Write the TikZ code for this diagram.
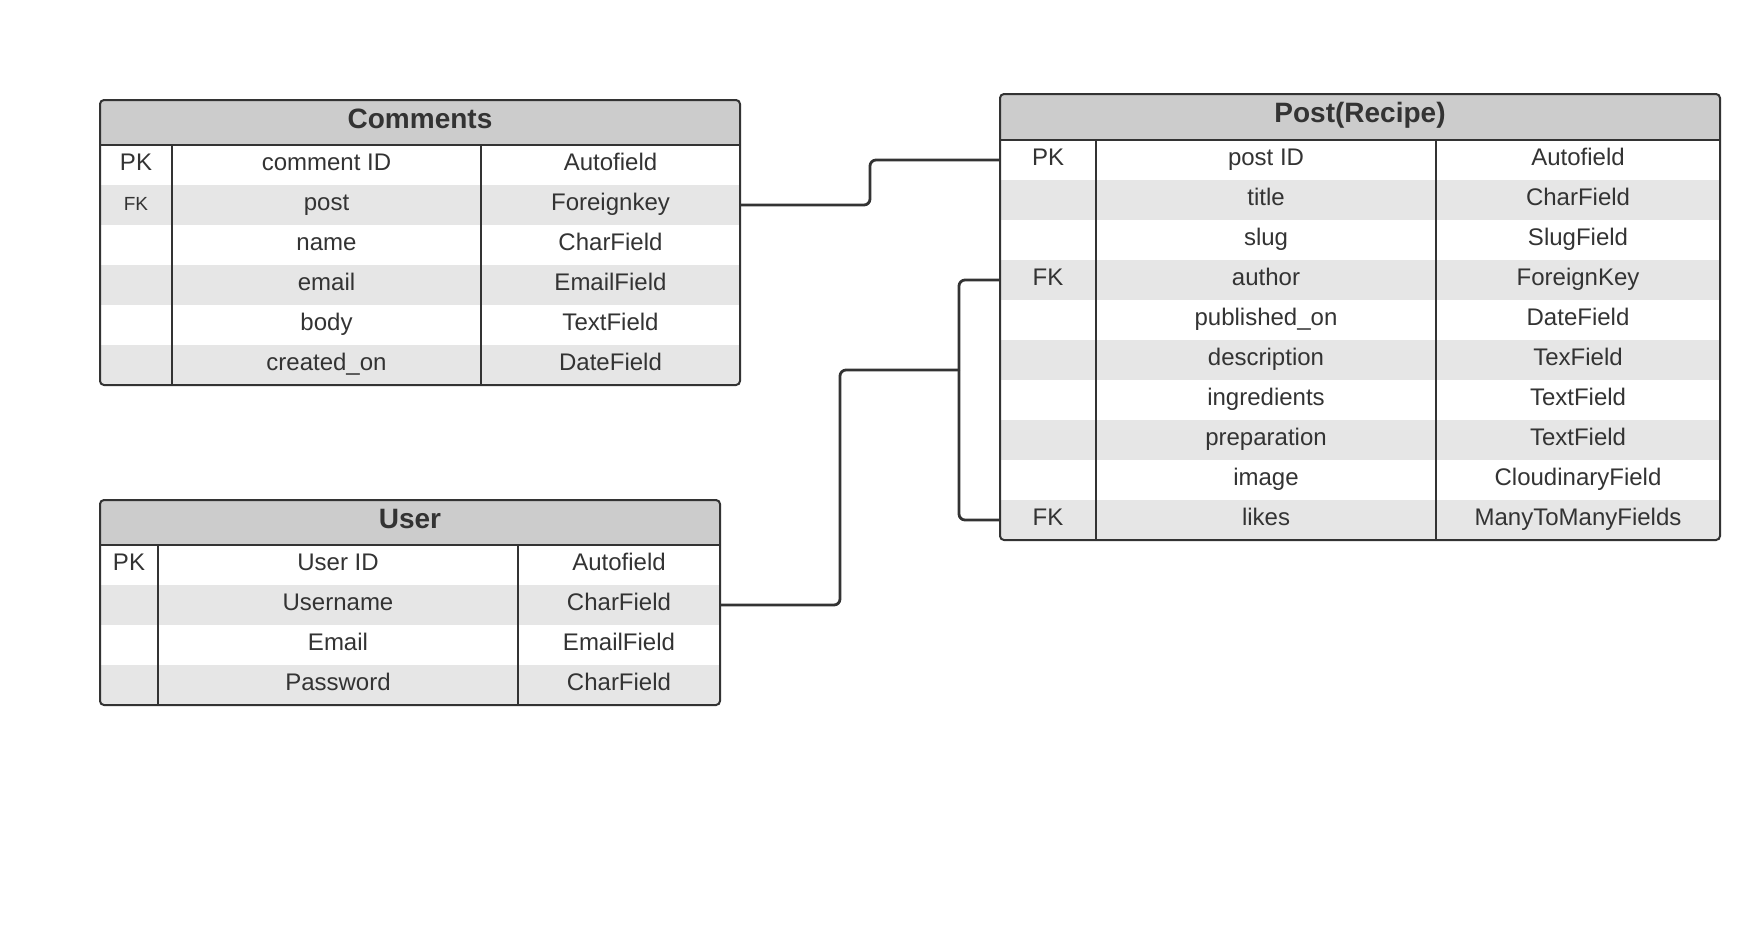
\documentclass[tikz,border=0pt]{standalone}
\usepackage{fontspec}
\setmainfont{Liberation Sans}
\definecolor{ink}{HTML}{333333}
\definecolor{headfill}{HTML}{CCCCCC}
\definecolor{stripefill}{HTML}{E6E6E6}
\newcommand{\fksmall}{\fontsize{9.5}{11}\selectfont}
\tikzset{
  every node/.style={text=ink, inner sep=0pt, outer sep=0pt},
  cell/.style={anchor=base, font=\fontsize{12}{14}\selectfont},
  tabtitle/.style={anchor=base, font=\fontsize{14}{16}\selectfont\bfseries},
  head/.style={anchor=north west, fill=headfill},
  band/.style={anchor=west, minimum height=20pt},
  band0/.style={band, fill=stripefill},
  band1/.style={band, fill=white},
  frame/.style={draw=ink, line width=1pt, rounded corners=2pt},
  rule/.style={draw=ink, line width=1pt},
  link/.style={draw=ink, line width=1.4pt, rounded corners=3pt},
}

\begin{document}
\begin{tikzpicture}[x=0.5pt, y=-0.5pt]
  \useasboundingbox (0,0) rectangle (1760,949);
  % Comments
  \begin{scope}
    \clip[rounded corners=2pt] (100,100) rectangle (740,385);
    \node[head, minimum width=320pt, minimum height=22.5pt] (com-head) at (100,100) {};
    \foreach \k/\f/\t [count=\i] in {PK/comment ID/Autofield, {\fksmall FK}/post/Foreignkey,
        /name/CharField, /email/EmailField, /body/TextField, /created\_on/DateField}{
      \pgfmathtruncatemacro\c{mod(\i,2)}
      \node[band\c, minimum width=320pt] (com-\i) at (100,{145+40*\i-20}) {};
      \node[cell] (com-\i-key) at (136,{145+40*\i-15}) {\k};
      \node[cell] (com-\i-name) at (326.5,{145+40*\i-15}) {\f};
      \node[cell] (com-\i-type) at (610.5,{145+40*\i-15}) {\t};
    }
  \end{scope}
  \node[tabtitle] (com-title) at (420,128) {Comments};
  \draw[frame] (100,100) rectangle (740,385);
  \draw[rule] (com-head.south west) -- (com-head.south east);
  \draw[rule] (172,145) -- (172,385);
  \draw[rule] (481,145) -- (481,385);

  % Post(Recipe)
  \begin{scope}
    \clip[rounded corners=2pt] (1000,94) rectangle (1720,540);
    \node[head, minimum width=360pt, minimum height=23pt] (post-head) at (1000,94) {};
    \foreach \k/\f/\t [count=\i] in {PK/post ID/Autofield, /title/CharField, /slug/SlugField,
        FK/author/ForeignKey, /published\_on/DateField, /description/TexField,
        /ingredients/TextField, /preparation/TextField, /image/CloudinaryField,
        FK/likes/ManyToManyFields}{
      \pgfmathtruncatemacro\c{mod(\i,2)}
      \node[band\c, minimum width=360pt] (post-\i) at (1000,{140+40*\i-20}) {};
      \node[cell] (post-\i-key) at (1048,{140+40*\i-15}) {\k};
      \node[cell] (post-\i-name) at (1266,{140+40*\i-15}) {\f};
      \node[cell] (post-\i-type) at (1578,{140+40*\i-15}) {\t};
    }
  \end{scope}
  \node[tabtitle] (post-title) at (1360,122) {Post(Recipe)};
  \draw[frame] (1000,94) rectangle (1720,540);
  \draw[rule] (post-head.south west) -- (post-head.south east);
  \draw[rule] (1096,140) -- (1096,540);
  \draw[rule] (1436,140) -- (1436,540);

  % User
  \begin{scope}
    \clip[rounded corners=2pt] (100,500) rectangle (720,705);
    \node[head, minimum width=310pt, minimum height=22.5pt] (user-head) at (100,500) {};
    \foreach \k/\f/\t [count=\i] in {PK/User ID/Autofield, /Username/CharField,
        /Email/EmailField, /Password/CharField}{
      \pgfmathtruncatemacro\c{mod(\i,2)}
      \node[band\c, minimum width=310pt] (user-\i) at (100,{545+40*\i-20}) {};
      \node[cell] (user-\i-key) at (129,{545+40*\i-15}) {\k};
      \node[cell] (user-\i-name) at (338,{545+40*\i-15}) {\f};
      \node[cell] (user-\i-type) at (619,{545+40*\i-15}) {\t};
    }
  \end{scope}
  \node[tabtitle] (user-title) at (410,528) {User};
  \draw[frame] (100,500) rectangle (720,705);
  \draw[rule] (user-head.south west) -- (user-head.south east);
  \draw[rule] (158,545) -- (158,705);
  \draw[rule] (518,545) -- (518,705);

  % links
  \draw[link] (com-2.east) -| (870,160) -- (post-1.west);
  \coordinate (fork) at (959,370);
  \draw[link] (user-2.east) -| (840,370) -- (fork);
  \draw[link] (fork) |- (post-4.west);
  \draw[link] (fork) |- (post-10.west);
\end{tikzpicture}
\end{document}
